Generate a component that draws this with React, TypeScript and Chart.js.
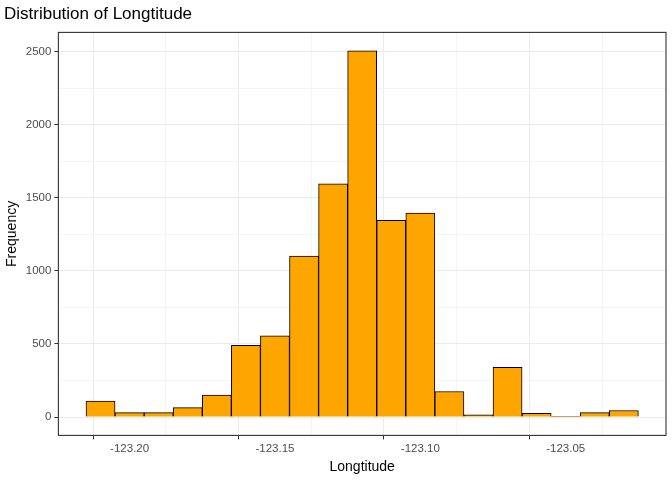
import React, { useEffect, useRef } from "react";
import { Chart, registerables } from "chart.js";
Chart.register(...registerables);

const binCenters = [-123.21, -123.2, -123.19, -123.18, -123.17, -123.16, -123.15, -123.14, -123.13, -123.12, -123.11, -123.1, -123.09, -123.08, -123.07, -123.06, -123.05, -123.04, -123.03];
const counts = [110, 30, 30, 65, 150, 490, 555, 1100, 1595, 2505, 1345, 1395, 175, 15, 340, 25, 5, 30, 45];
const xMajor = [-123.2, -123.15, -123.1, -123.05];
const xMinor = [-123.225, -123.175, -123.125, -123.075, -123.025];
const yMajor = [0, 500, 1000, 1500, 2000, 2500];

const border = {
  id: "border",
  afterDraw(c: any) {
    const a = c.chartArea;
    const ctx = c.ctx;
    ctx.save();
    ctx.strokeStyle = "#333333";
    ctx.lineWidth = 1.1;
    ctx.strokeRect(a.left, a.top, a.right - a.left, a.bottom - a.top);
    ctx.restore();
  },
};

export default function App() {
  const ref = useRef<HTMLCanvasElement>(null);
  useEffect(() => {
    document.body.style.margin = "0";
    const majorSet = (v: number, arr: number[]) => arr.some((m) => Math.abs(m - v) < 1e-6);
    const chart = new Chart(ref.current!, {
      type: "bar",
      data: {
        datasets: [
          {
            data: binCenters.map((x, i) => ({ x, y: counts[i] })),
            backgroundColor: "#FFA500",
            borderColor: "#000000",
            borderWidth: 1,
            barPercentage: 1,
            categoryPercentage: 1,
          } as any,
        ],
      },
      options: {
        animation: false,
        responsive: false,
        devicePixelRatio: 1,
        layout: { padding: { left: 4, right: 6, top: 0, bottom: 4 } },
        plugins: {
          legend: { display: false },
          tooltip: { enabled: false },
          title: {
            display: true,
            text: "Distribution of Longtitude",
            align: "start",
            color: "#000",
            font: { family: "Liberation Sans, Arial", size: 17, weight: "normal" },
            padding: { top: 4, bottom: 8 },
          },
        },
        scales: {
          x: {
            type: "linear",
            offset: false,
            min: -123.2245,
            max: -123.0155,
            afterBuildTicks: (s: any) => {
              s.ticks = [...xMinor, ...xMajor].sort((a, b) => a - b).map((v) => ({ value: v }));
            },
            grid: {
              color: (ctx: any) => (majorSet(ctx.tick?.value, xMajor) ? "#EBEBEB" : "#F4F4F4"),
              tickColor: (ctx: any) => (majorSet(ctx.tick?.value, xMajor) ? "#333333" : "rgba(0,0,0,0)"),
              tickLength: 4,
              drawOnChartArea: true,
            },
            border: { display: false },
            ticks: {
              autoSkip: false,
              maxRotation: 0,
              color: "#4D4D4D",
              font: { family: "Liberation Sans, Arial", size: 11.5 },
              callback: (v: any) => (majorSet(Number(v), xMajor) ? Number(v).toFixed(2) : ""),
            },
            title: {
              display: true,
              text: "Longtitude",
              color: "#000",
              font: { family: "Liberation Sans, Arial", size: 14 },
              padding: { top: 0, bottom: 0 },
            },
          },
          y: {
            min: -125.25,
            max: 2630.25,
            afterBuildTicks: (s: any) => {
              const t: any[] = [];
              for (let v = 0; v <= 2500; v += 250) t.push({ value: v });
              s.ticks = t;
            },
            grid: {
              color: (ctx: any) => (majorSet(ctx.tick?.value, yMajor) ? "#EBEBEB" : "#F4F4F4"),
              tickColor: (ctx: any) => (majorSet(ctx.tick?.value, yMajor) ? "#333333" : "rgba(0,0,0,0)"),
              tickLength: 4,
            },
            border: { display: false },
            ticks: {
              autoSkip: false,
              color: "#4D4D4D",
              font: { family: "Liberation Sans, Arial", size: 11.5 },
              callback: (v: any) => (majorSet(Number(v), yMajor) ? String(v) : ""),
            },
            title: {
              display: true,
              text: "Frequency",
              color: "#000",
              font: { family: "Liberation Sans, Arial", size: 14 },
              padding: { top: 0, bottom: 2 },
            },
          },
        },
      },
      plugins: [border],
    });
    return () => chart.destroy();
  }, []);
  return <canvas ref={ref} width={672} height={480} style={{ display: "block" }} />;
}
